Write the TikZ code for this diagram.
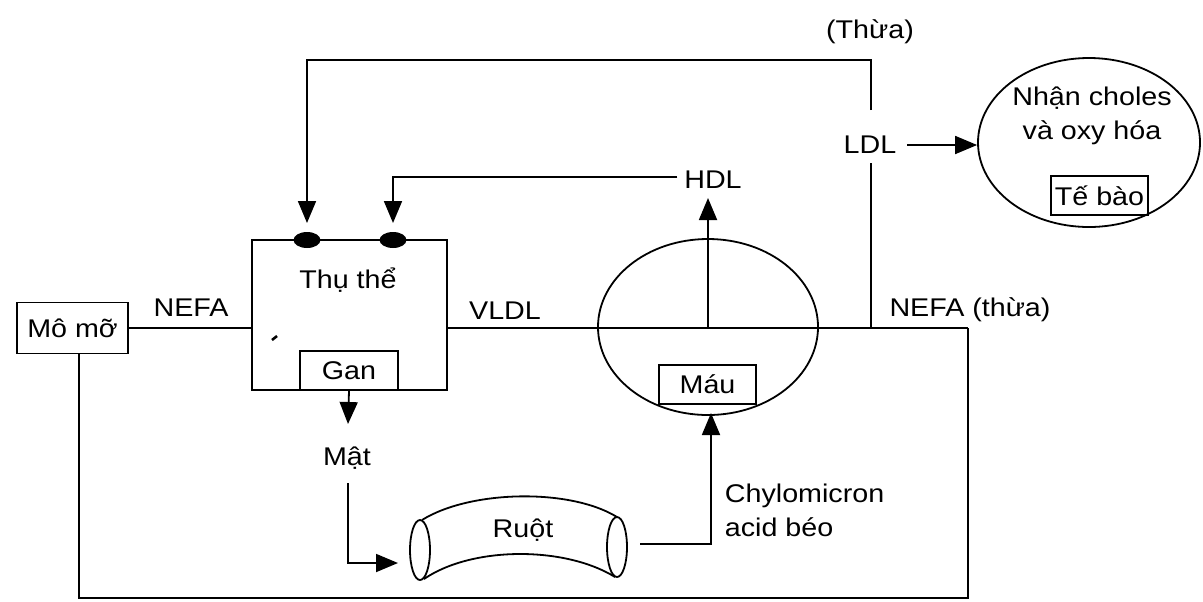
\documentclass[tikz,border=0pt]{standalone}
\usepackage{fontspec}
\setmainfont{Liberation Sans}[FakeStretch=1.12]
\usetikzlibrary{arrows.meta,shapes.geometric}
\begin{document}
\begin{tikzpicture}[x=0.5pt,y=-0.5pt, line width=0.9pt,
  every node/.style={font=\fontsize{12.8}{17}\selectfont, inner sep=0pt},
  box/.style={draw, rectangle},
  recep/.style={fill, ellipse, minimum width=13.5pt, minimum height=8pt},
  arr/.style={-{Triangle[length=11pt,width=9pt]}}]
\useasboundingbox (0,0) rectangle (1203,601);
% nodes
\node[box, minimum width=55.5pt, minimum height=25.5pt] (momo) at (72.5,328) {Mô mỡ};
\node[box, minimum width=97.5pt, minimum height=75pt] (liver) at (349.5,315) {};
\node[box, minimum width=49pt, minimum height=19.5pt] (gan) at (349,370.5) {Gan};
\node[recep] (r1) at (307,240) {};
\node[recep] (r2) at (393,240) {};
\node (thu) at (348,280) {Thụ thể};
\node[draw, ellipse, minimum width=110pt, minimum height=88pt] (mau) at (708,327) {};
\node[box, minimum width=48.5pt, minimum height=19.5pt] (maubox) at (707.5,384.5) {Máu};
\node[draw, ellipse, minimum width=111pt, minimum height=84.5pt] (cell) at (1089,142.5) {};
\node[align=center] (nhan) at (1092,116) {Nhận choles\\và oxy hóa};
\node[box, minimum width=48.5pt, minimum height=19.5pt] (tebao) at (1099.5,195.5) {Tế bào};
\node (hdl) at (713,180) {HDL};
\node (ldl) at (870,145) {LDL};
\node (thua) at (870,32) {(Thừa)};
\node (nefa) at (191,308) {NEFA};
\node (vldl) at (505,311) {VLDL};
\node (nefat) at (970,310) {NEFA (thừa)};
\node (mat) at (347,458) {Mật};
\node (ruot) at (523,530) {Ruột};
\node[align=left, anchor=west] (chylo) at (724,510) {Chylomicron\\acid béo};
% coordinates
\coordinate (nr) at (968,328);
\coordinate (lv) at (871,328);
\coordinate (bl) at (79,598);
\coordinate (br) at (968,598);
\coordinate (topL) at (307,60);
\coordinate (topR) at (871,60);
\coordinate (ldlT) at (871,110);
\coordinate (ldlB) at (871,163);
% Mo mo - liver
\draw (momo.east |- 0,328) -- (liver.west |- 0,328);
% VLDL line through blood to right
\draw (liver.east |- 0,328) -- (nr);
% loop back to Mo mo
\draw (nr) -- (br) -- (bl) -- (momo.south -| bl);
% vertical inside blood and HDL
\draw[arr] (mau.center) -- (708,198);
\draw[arr] (hdl.west |- 0,177) ++(-6,0) -- (393,177) -- (393,223);
% LDL loop
\draw (lv) -- (ldlB);
\draw[arr] (ldlT) -- (topR) -- (topL) -- (307,223);
\draw[arr] ([xshift=5pt]ldl.east) -- (ldl.east -| cell.west);
% gan -> mat -> ruot
\draw[arr] (gan.south) -- (348,424);
\draw[arr] (348,483) -- (348,563) -- (398,563);
% ruot tube
\draw (420,550) ellipse [x radius=10, y radius=30];
\draw (617,547) ellipse [x radius=10, y radius=30];
\draw (422,520) .. controls (470,490) and (570,488) .. (617,517);
\draw (424,579) .. controls (472,546) and (565,546) .. (615,577);
% ruot -> mau
\draw[arr] (640,544) -- (711,544) -- (711,413);
% small mark
\draw[line width=1.3pt] (272,340) -- (277,336);
\end{tikzpicture}
\end{document}
